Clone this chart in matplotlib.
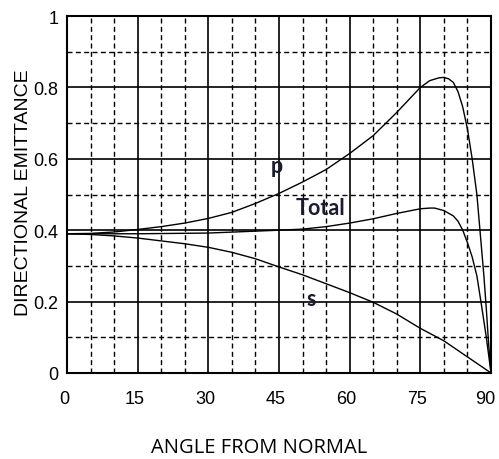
import matplotlib
matplotlib.use("Agg")
import matplotlib.pyplot as plt
import matplotlib.transforms as mtransforms
from matplotlib.ticker import MultipleLocator

# values
angle_p = [0, 5, 10, 15, 20, 25, 30, 35, 40, 45, 50, 55, 60, 65, 70, 72.5, 75, 77,
           79, 80, 81, 82, 83, 84, 85, 86, 87, 88, 88.5, 89, 89.5, 90]
emit_p = [0.39, 0.391, 0.395, 0.402, 0.41, 0.42, 0.433, 0.45, 0.475, 0.503, 0.535,
          0.57, 0.615, 0.665, 0.73, 0.765, 0.80, 0.819, 0.827, 0.828, 0.824, 0.814,
          0.788, 0.745, 0.683, 0.60, 0.50, 0.347, 0.27, 0.18, 0.08, 0.0]

angle_total = [0, 15, 30, 45, 50, 55, 60, 65, 70, 75, 77, 78, 80, 82, 83, 84, 85,
               86, 87, 88, 89, 90]
emit_total = [0.39, 0.39, 0.392, 0.40, 0.403, 0.41, 0.42, 0.432, 0.447, 0.46, 0.462,
              0.462, 0.455, 0.44, 0.425, 0.40, 0.365, 0.325, 0.272, 0.188, 0.10, 0.0]

angle_s = [0, 5, 10, 15, 20, 25, 30, 35, 40, 45, 50, 55, 60, 65, 70, 75, 80, 85, 90]
emit_s = [0.39, 0.388, 0.384, 0.378, 0.37, 0.362, 0.352, 0.338, 0.32, 0.297, 0.275,
          0.25, 0.225, 0.198, 0.165, 0.125, 0.09, 0.045, 0.0]

x_ticks = [0, 15, 30, 45, 60, 75, 90]
y_ticks = [0, 0.2, 0.4, 0.6, 0.8, 1.0]
y_tick_labels = ["0", "0.2", "0.4", "0.6", "0.8", "1"]

fig = plt.figure(figsize=(4.99, 4.6), dpi=100)
ax = fig.add_axes([0.1343, 0.187, 0.8497, 0.776])

ax.set_xlim(0, 90)
ax.set_ylim(0, 1)
ax.set_xticks(x_ticks)
ax.set_yticks(y_ticks)
ax.set_yticklabels(y_tick_labels)
ax.xaxis.set_minor_locator(MultipleLocator(5))
ax.yaxis.set_minor_locator(MultipleLocator(0.1))

ax.grid(which="major", color="black", linewidth=1.2, linestyle="-")
ax.grid(which="minor", color="black", linewidth=1.0, linestyle=(0, (3.6, 2.4)))
ax.set_axisbelow(True)

ax.tick_params(which="both", length=0)
ax.tick_params(axis="x", pad=12, labelsize=13)
ax.tick_params(axis="y", pad=6, labelsize=13)
for lbl in ax.get_xticklabels() + ax.get_yticklabels():
    lbl.set_family("Liberation Sans")

# x labels sit a little left of their ticks, the last one more so
xlabels = ax.get_xticklabels()
for i, lbl in enumerate(xlabels):
    shift = -6 if i == len(xlabels) - 1 else -3
    off = mtransforms.ScaledTranslation(shift / 100, 0, fig.dpi_scale_trans)
    lbl.set_transform(lbl.get_transform() + off)

for sp in ax.spines.values():
    sp.set_linewidth(1.5)
    sp.set_color("black")

ax.plot(angle_p, emit_p, color="black", linewidth=1.0)
ax.plot(angle_total, emit_total, color="black", linewidth=1.0)
ax.plot(angle_s, emit_s, color="black", linewidth=1.0)

txt_color = "#1a1a30"
ax.text(44.5, 0.58, "p", fontsize=15.5, fontweight="bold", family="Lato",
        color=txt_color, ha="center", va="center")
ax.text(53.7, 0.464, "Total", fontsize=15.5, fontweight="bold", family="Lato",
        color=txt_color, ha="center", va="center")
ax.text(51.9, 0.21, "s", fontsize=15.5, fontweight="bold", family="Lato",
        color=txt_color, ha="center", va="center")

fig.text(24 / 499, 1 - 193 / 460, "DIRECTIONAL EMITTANCE", rotation=90,
         fontsize=14, family="Liberation Sans", ha="center", va="center")
fig.text(259 / 499, 1 - 448 / 460, "ANGLE FROM NORMAL", fontsize=14.5,
         family="Open Sans", ha="center", va="center")

fig.savefig("out.png", dpi=100)
